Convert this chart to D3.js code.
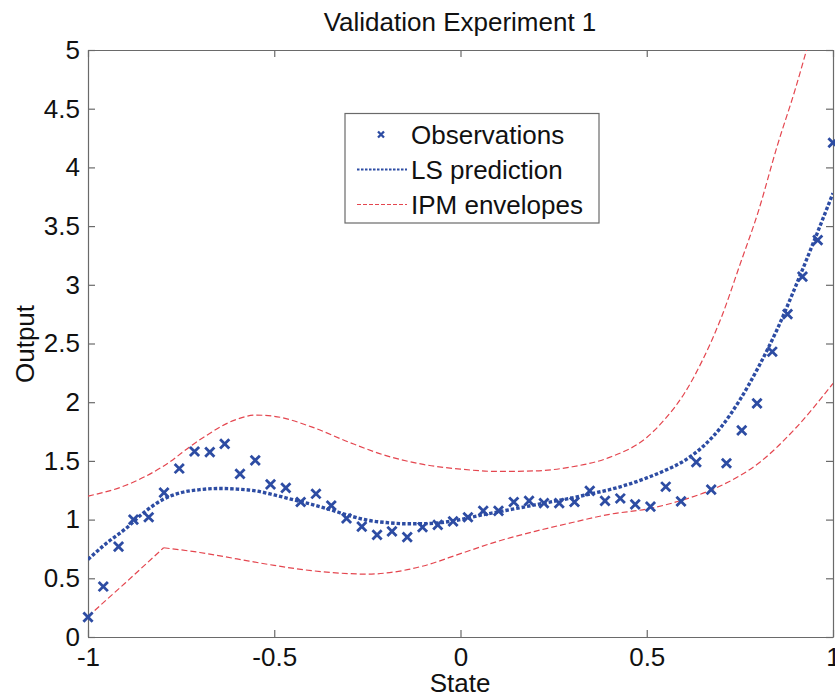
<!DOCTYPE html>
<html>
<head>
<meta charset="utf-8">
<script src="https://cdn.jsdelivr.net/npm/d3@7"></script>
<style>
  body { margin: 0; background: #fff; }
  svg { display: block; font-family: "Liberation Sans", Arial, sans-serif; }
</style>
</head>
<body>
<svg class="some-chart" width="835" height="696"></svg>
<script>
// observations (50 states from -1 to 1)
const obsState = [-1, -0.959, -0.918, -0.878, -0.837, -0.796, -0.755, -0.714, -0.673, -0.633,
  -0.592, -0.551, -0.510, -0.469, -0.429, -0.388, -0.347, -0.306, -0.265, -0.224,
  -0.184, -0.143, -0.102, -0.061, -0.020, 0.020, 0.061, 0.102, 0.143, 0.184,
  0.224, 0.265, 0.306, 0.347, 0.388, 0.429, 0.469, 0.510, 0.551, 0.592,
  0.633, 0.673, 0.714, 0.755, 0.796, 0.837, 0.878, 0.918, 0.959, 1];
const obsOutput = [0.17, 0.43, 0.77, 1.00, 1.02, 1.23, 1.435, 1.58, 1.575, 1.645,
  1.39, 1.505, 1.30, 1.27, 1.15, 1.22, 1.12, 1.01, 0.94, 0.87,
  0.90, 0.85, 0.935, 0.955, 0.985, 1.02, 1.075, 1.075, 1.15, 1.16,
  1.14, 1.14, 1.15, 1.245, 1.16, 1.18, 1.13, 1.11, 1.28, 1.155,
  1.49, 1.255, 1.48, 1.76, 1.99, 2.43, 2.75, 3.07, 3.38, 4.21];

// LS prediction
const lsState = [-1, -0.95, -0.9, -0.85, -0.8, -0.75, -0.7, -0.65, -0.6, -0.55, -0.5,
  -0.45, -0.4, -0.35, -0.3, -0.25, -0.2, -0.15, -0.1, -0.05, 0,
  0.05, 0.1, 0.15, 0.2, 0.25, 0.3, 0.35, 0.4, 0.45, 0.5,
  0.55, 0.6, 0.65, 0.7, 0.75, 0.8, 0.85, 0.9, 0.95, 1];
const lsOutput = [0.66, 0.80, 0.92, 1.06, 1.17, 1.23, 1.255, 1.265, 1.26, 1.245, 1.21,
  1.17, 1.13, 1.085, 1.035, 0.995, 0.975, 0.965, 0.965, 0.975, 1.00,
  1.035, 1.065, 1.095, 1.125, 1.155, 1.185, 1.22, 1.255, 1.30, 1.355,
  1.42, 1.50, 1.62, 1.79, 2.02, 2.30, 2.62, 2.99, 3.38, 3.78];

// IPM envelopes
const upperState = [-1, -0.9, -0.8, -0.7, -0.6, -0.55, -0.5, -0.4, -0.3, -0.2, -0.1, 0,
  0.1, 0.2, 0.3, 0.4, 0.5, 0.55, 0.6, 0.65, 0.7, 0.75, 0.8, 0.85, 0.9, 0.95, 1];
const upperOutput = [1.20, 1.29, 1.45, 1.68, 1.855, 1.89, 1.88, 1.79, 1.66, 1.545, 1.47, 1.43,
  1.41, 1.415, 1.45, 1.53, 1.70, 1.86, 2.07, 2.36, 2.72, 3.17, 3.63, 4.18, 4.68, 5.25, 5.9];
const lowerState = [-1, -0.9, -0.797, -0.7, -0.6, -0.5, -0.4, -0.3, -0.25, -0.2, -0.1, 0,
  0.1, 0.2, 0.3, 0.4, 0.5, 0.6, 0.7, 0.8, 0.9, 1];
const lowerOutput = [0.175, 0.46, 0.76, 0.72, 0.665, 0.61, 0.565, 0.54, 0.535, 0.545, 0.605, 0.71,
  0.815, 0.90, 0.975, 1.045, 1.09, 1.17, 1.29, 1.48, 1.78, 2.16];
const lowerKink = 2;

const xTicks = [-1, -0.5, 0, 0.5, 1];
const yTicks = [0, 0.5, 1, 1.5, 2, 2.5, 3, 3.5, 4, 4.5, 5];
const legendLabels = ['Observations', 'LS prediction', 'IPM envelopes'];

const blue = '#2d4ca3';
const red = '#e4464f';

const svg = d3.select('svg.some-chart');
const plotLeft = 88, plotRight = 833, plotTop = 50, plotBottom = 637;

const x = d3.scaleLinear().domain([-1, 1]).range([plotLeft, plotRight]);
const y = d3.scaleLinear().domain([0, 5]).range([plotBottom, plotTop]);

const fmt = function(d) { return String(d); };

// axes box with inward ticks on every side
function styleAxis(g) {
  g.selectAll('.domain').attr('stroke', '#6a6a6a').attr('stroke-width', 1.2);
  g.selectAll('.tick line').attr('stroke', '#6a6a6a').attr('stroke-width', 1.2);
  g.selectAll('.tick text').attr('fill', '#111').style('font-size', '26px')
    .style('font-family', '"Liberation Sans", Arial, sans-serif');
}

svg.append('g')
  .attr('transform', 'translate(0,' + plotBottom + ')')
  .call(d3.axisBottom(x).tickValues(xTicks).tickFormat(fmt).tickSizeInner(-7).tickSizeOuter(0).tickPadding(11))
  .call(styleAxis);

svg.append('g')
  .attr('transform', 'translate(0,' + plotTop + ')')
  .call(d3.axisTop(x).tickValues(xTicks).tickFormat('').tickSizeInner(-7).tickSizeOuter(0))
  .call(styleAxis);

svg.append('g')
  .attr('transform', 'translate(' + plotLeft + ',0)')
  .call(d3.axisLeft(y).tickValues(yTicks).tickFormat(fmt).tickSizeInner(-7).tickSizeOuter(0).tickPadding(8))
  .call(styleAxis);

svg.append('g')
  .attr('transform', 'translate(' + plotRight + ',0)')
  .call(d3.axisRight(y).tickValues(yTicks).tickFormat('').tickSizeInner(-7).tickSizeOuter(0))
  .call(styleAxis);

// clip to the plot box
svg.append('clipPath').attr('id', 'plot-clip')
  .append('rect')
  .attr('x', plotLeft).attr('y', plotTop)
  .attr('width', plotRight - plotLeft).attr('height', plotBottom - plotTop);

const plot = svg.append('g').attr('clip-path', 'url(#plot-clip)');

const smooth = d3.line()
  .x(function(d) { return x(d[0]); })
  .y(function(d) { return y(d[1]); })
  .curve(d3.curveMonotoneX);

const straight = d3.line()
  .x(function(d) { return x(d[0]); })
  .y(function(d) { return y(d[1]); });

const upper = d3.zip(upperState, upperOutput);
const lower = d3.zip(lowerState, lowerOutput);
const ls = d3.zip(lsState, lsOutput);

function envelope(path) {
  path.attr('fill', 'none')
    .attr('stroke', red)
    .attr('stroke-width', 1.2)
    .attr('stroke-dasharray', '6,3');
}

plot.append('path').attr('d', smooth(upper)).call(envelope);
plot.append('path').attr('d', straight(lower.slice(0, lowerKink + 1))).call(envelope);
plot.append('path').attr('d', smooth(lower.slice(lowerKink))).call(envelope);

plot.append('path')
  .attr('d', smooth(ls))
  .attr('fill', 'none')
  .attr('stroke', blue)
  .attr('stroke-width', 3.4)
  .attr('stroke-dasharray', '3.5,2');

const cross = function(s) { return 'M' + (-s) + ',' + (-s) + 'L' + s + ',' + s + 'M' + (-s) + ',' + s + 'L' + s + ',' + (-s); };

svg.append('g')
  .selectAll('path')
  .data(d3.zip(obsState, obsOutput))
  .enter()
  .append('path')
  .attr('transform', function(d) { return 'translate(' + x(d[0]) + ',' + y(d[1]) + ')'; })
  .attr('d', cross(4.6))
  .attr('fill', 'none')
  .attr('stroke', blue)
  .attr('stroke-width', 2.8);

// legend
const legend = svg.append('g');
legend.append('rect')
  .attr('x', 345).attr('y', 113.5)
  .attr('width', 254).attr('height', 109.5)
  .attr('fill', '#fff')
  .attr('stroke', '#6a6a6a')
  .attr('stroke-width', 1.2);

const rows = legend.selectAll('g.row')
  .data(legendLabels)
  .enter()
  .append('g')
  .attr('class', 'row')
  .attr('transform', function(d, i) { return 'translate(0,' + (134.5 + i * 35) + ')'; });

rows.append('text')
  .attr('x', 411)
  .attr('y', 9.5)
  .attr('fill', '#111')
  .style('font-size', '26px')
  .text(function(d) { return d; });

rows.filter(function(d, i) { return i === 0; })
  .append('path')
  .attr('transform', 'translate(381,0)')
  .attr('d', cross(3))
  .attr('stroke', blue)
  .attr('stroke-width', 2.3);

rows.filter(function(d, i) { return i === 1; })
  .append('line')
  .attr('x1', 357).attr('x2', 407)
  .attr('stroke', blue)
  .attr('stroke-width', 2.2)
  .attr('stroke-dasharray', '2.5,1.5');

rows.filter(function(d, i) { return i === 2; })
  .append('line')
  .attr('x1', 357).attr('x2', 407)
  .attr('stroke', red)
  .attr('stroke-width', 1)
  .attr('stroke-dasharray', '4,2');

// title and axis labels
svg.append('text')
  .attr('x', 460).attr('y', 31)
  .attr('text-anchor', 'middle')
  .attr('fill', '#111')
  .style('font-size', '26px')
  .text('Validation Experiment 1');

svg.append('text')
  .attr('x', 460).attr('y', 692)
  .attr('text-anchor', 'middle')
  .attr('fill', '#111')
  .style('font-size', '26px')
  .text('State');

svg.append('text')
  .attr('transform', 'translate(34,344) rotate(-90)')
  .attr('text-anchor', 'middle')
  .attr('fill', '#111')
  .style('font-size', '26px')
  .text('Output');
</script>
</body>
</html>
